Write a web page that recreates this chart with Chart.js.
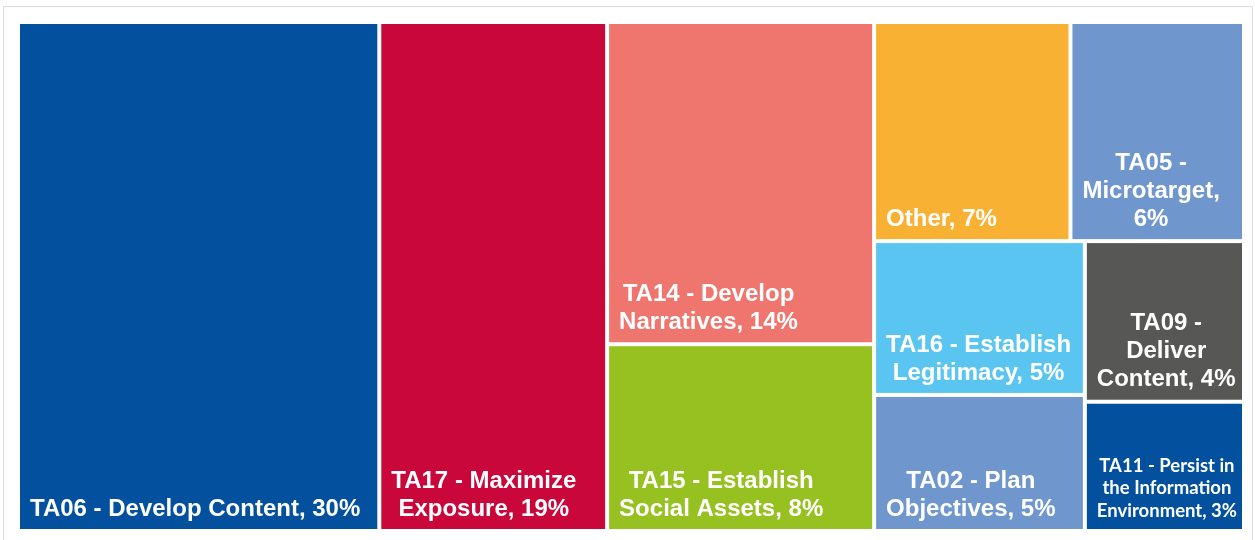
<!DOCTYPE html>
<html>
<head>
<meta charset="utf-8">
<title>Tactic share treemap</title>
<script src="https://cdn.jsdelivr.net/npm/chart.js@4.4.1/dist/chart.umd.min.js"></script>
<style>
    html, body { margin: 0; padding: 0; background: #ffffff; }
    #wrap { position: relative; width: 1255px; height: 540px; }
</style>
</head>
<body>
<div id="wrap"><canvas id="treemap"></canvas></div>
<script>
// Categories (multi-line labels as shown in each cell)
const categories = [
    ['TA06 - Develop Content, 30%'],
    ['TA17 - Maximize', 'Exposure, 19%'],
    ['TA14 - Develop', 'Narratives, 14%'],
    ['TA15 - Establish', 'Social Assets, 8%'],
    ['Other, 7%'],
    ['TA05 -', 'Microtarget,', '6%'],
    ['TA16 - Establish', 'Legitimacy, 5%'],
    ['TA02 - Plan', 'Objectives, 5%'],
    ['TA09 -', 'Deliver', 'Content, 4%'],
    ['TA11 - Persist in', 'the Information', 'Environment, 3%']
];

// Share of each tactic (percent)
const values = [29.5, 18.6, 13.8, 8.0, 6.9, 6.1, 5.2, 4.6, 4.1, 3.3];

// Grouping of the cells (indices into categories)
const groups = [0, 1, [2, 3], [[4, 5], [[6, 7], [8, 9]]]];

const colors = ['#03509e', '#c9073a', '#ee766e', '#96c121', '#f8b133',
                '#7097cd', '#5ac5f1', '#7097cd', '#575756', '#03509e'];

function groupSum(node) {
    return typeof node === 'number' ? values[node] : node.reduce((s, n) => s + groupSum(n), 0);
}

// Slice along the longer side, recursively, in data units of the two scales
const treemapPlugin = {
    id: 'treemap',
    beforeDraw(chart) {
        const ctx = chart.ctx;
        ctx.save();
        ctx.strokeStyle = '#dcdcdc';
        ctx.lineWidth = 1;
        ctx.strokeRect(3.5, 6.5, 1249, 545);
        ctx.restore();
    },
    afterDatasetsDraw(chart) {
        const { ctx, scales: { x, y } } = chart;
        const cells = [];

        function place(node, x0, y0, x1, y1) {
            if (typeof node === 'number') {
                cells.push({ i: node, x0, y0, x1, y1 });
                return;
            }
            const total = groupSum(node);
            const pw = Math.abs(x.getPixelForValue(x1) - x.getPixelForValue(x0));
            const ph = Math.abs(y.getPixelForValue(y1) - y.getPixelForValue(y0));
            const wide = pw >= ph;
            let pos = wide ? x0 : y0;
            node.forEach(child => {
                const span = groupSum(child) / total * (wide ? x1 - x0 : y1 - y0);
                if (wide) place(child, pos, y0, pos + span, y1);
                else place(child, x0, pos, x1, pos + span);
                pos += span;
            });
        }
        place(groups, 0, 0, 1, 1);

        const gap = 2;
        ctx.save();
        cells.forEach(c => {
            const left = x.getPixelForValue(c.x0) + gap;
            const right = x.getPixelForValue(c.x1) - gap;
            const top = y.getPixelForValue(c.y0) + gap;
            const bottom = y.getPixelForValue(c.y1) - gap;
            ctx.fillStyle = colors[c.i];
            ctx.fillRect(left, top, right - left, bottom - top);

            // label: block anchored bottom-left, lines centred inside the block
            const lines = categories[c.i];
            let font = 'bold 24px "Liberation Sans", Arial, sans-serif';
            let lineH = 28;
            let bottomPad = 20;
            ctx.font = font;
            let blockW = Math.max(...lines.map(l => ctx.measureText(l).width));
            if (blockW > right - left - 14) {
                font = 'bold 18.5px Lato, "Open Sans", sans-serif';
                lineH = 22.5;
                bottomPad = 18;
                ctx.font = font;
                blockW = Math.max(...lines.map(l => ctx.measureText(l).width));
            }
            ctx.fillStyle = '#ffffff';
            ctx.textAlign = 'center';
            ctx.textBaseline = 'middle';
            const cx = left + 10 + blockW / 2;
            lines.forEach((line, k) => {
                const cy = bottom - bottomPad - (lines.length - 1 - k) * lineH;
                ctx.fillText(line, cx, cy);
            });
        });
        ctx.restore();
    }
};

new Chart(document.getElementById('treemap'), {
    type: 'scatter',
    data: {
        labels: categories,
        datasets: [{ label: 'Share', data: [] }]
    },
    options: {
        responsive: true,
        maintainAspectRatio: false,
        animation: false,
        layout: {
            padding: { left: 18, right: 11, top: 22, bottom: 9 }
        },
        scales: {
            x: { type: 'linear', min: 0, max: 1, display: false },
            y: { type: 'linear', min: 0, max: 1, reverse: true, display: false }
        },
        plugins: {
            legend: { display: false },
            tooltip: { enabled: false }
        }
    },
    plugins: [treemapPlugin]
});
</script>
</body>
</html>
